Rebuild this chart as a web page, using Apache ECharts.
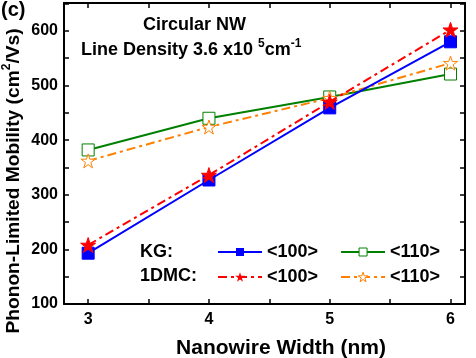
<!DOCTYPE html>
<html><head><meta charset="utf-8">
<script src="https://cdn.jsdelivr.net/npm/echarts@6/dist/echarts.min.js"></script>
<style>html,body{margin:0;padding:0;background:#fff}#c{width:476px;height:358px}</style>
</head><body><div id="c"></div>
<script>
const widths = [3, 4, 5, 6];
const kg100 = [193, 327, 459, 580];
const mc100 = [208, 336, 470, 602];
const kg110 = [382, 440, 479, 521];
const mc110 = [362, 424, 477, 541];
const xLabels = [3, 4, 5, 6];
const xTickVals = [3, 3.5, 4, 4.5, 5, 5.5, 6];
const yLabels = [100, 200, 300, 400, 500, 600];
const yTickVals = [100, 150, 200, 250, 300, 350, 400, 450, 500, 550, 600, 650];

const F = 'Liberation Sans, Arial, sans-serif';
const STAR = 'path://M12,1 L14.6,8.6 L22.5,8.6 L16.1,13.3 L18.5,21 L12,16.3 L5.5,21 L7.9,13.3 L1.5,8.6 L9.4,8.6 Z';
const chart = echarts.init(document.getElementById('c'));
function pts(v){ return widths.map((w,i)=>[w, v[i]]); }
const line = {show:true,onZero:false,lineStyle:{color:'#000',width:2}};
const tick = vals => ({show:true,inside:true,length:5,customValues:vals,lineStyle:{color:'#000',width:1.5}});
const lblFont = {fontFamily:F,fontWeight:'bold',fontSize:16,color:'#000'};
const legText = {fontFamily:F,fontWeight:'bold',fontSize:18,color:'#000'};
chart.setOption({
  animation:false,
  grid:{left:64,right:11,top:3,bottom:54,containLabel:false,outerBoundsMode:'none'},
  xAxis:[
    {type:'value',min:2.8,max:6.12,position:'bottom',
      axisLine:line,axisTick:tick(xTickVals),splitLine:{show:false},
      axisLabel:Object.assign({margin:8,customValues:xLabels},lblFont)},
    {type:'value',min:2.8,max:6.12,position:'top',
      axisLine:line,axisTick:tick(xTickVals),splitLine:{show:false},axisLabel:{show:false}}
  ],
  yAxis:[
    {type:'value',min:100,max:651,position:'left',
      axisLine:line,axisTick:tick(yTickVals),splitLine:{show:false},
      axisLabel:Object.assign({margin:6,padding:[0,0,8,0],customValues:yLabels},lblFont)},
    {type:'value',min:100,max:651,position:'right',
      axisLine:line,axisTick:tick(yTickVals),splitLine:{show:false},axisLabel:{show:false}}
  ],
  legend:[
    {orient:'horizontal',left:217,top:243,padding:0,itemWidth:44,itemHeight:10,itemGap:22,
      data:[{name:'kg100'},{name:'kg110',itemStyle:{color:'#fff',borderColor:'#008000',borderWidth:1}}],
      formatter:n=>n.endsWith('100')?'<100>':'<110>',textStyle:legText},
    {orient:'horizontal',left:217,top:268,padding:0,itemWidth:44,itemHeight:12,itemGap:22,
      data:[{name:'mc100'},{name:'mc110',itemStyle:{color:'#fff',borderColor:'#ff8000',borderWidth:1}}],
      formatter:n=>n.endsWith('100')?'<100>':'<110>',textStyle:legText}
  ],
  graphic:[
    {type:'text',left:1,top:0,style:{text:'(c)',font:'bold 20px '+F,fill:'#000'}},
    {type:'text',left:143,top:16,style:{text:'Circular NW',font:'bold 18px '+F,fill:'#000'}},
    {type:'text',left:81,top:38,style:{
      text:'{a|Line Density 3.6 x10 }{s|5}{a|cm}{s|-1}',
      rich:{a:{fontFamily:F,fontWeight:'bold',fontSize:18,color:'#000',verticalAlign:'bottom'},
            s:{fontFamily:F,fontWeight:'bold',fontSize:12,color:'#000',verticalAlign:'top',padding:[0,0,9,0]}}}},
    {type:'text',left:140,top:243,style:{text:'KG:',font:'bold 18px '+F,fill:'#000'}},
    {type:'text',left:140,top:267,style:{text:'1DMC:',font:'bold 18px '+F,fill:'#000'}},
    {type:'text',x:281,y:348,style:{text:'Nanowire Width (nm)',font:'bold 21px '+F,fill:'#000',align:'center',verticalAlign:'middle'}},
    {type:'text',x:12,y:181,rotation:Math.PI/2,style:{
      text:'{a|Phonon-Limited Mobility (cm}{s|2}{a|/Vs)}',align:'center',verticalAlign:'middle',
      rich:{a:{fontFamily:F,fontWeight:'bold',fontSize:19.2,color:'#000',verticalAlign:'bottom'},
            s:{fontFamily:F,fontWeight:'bold',fontSize:12,color:'#000',verticalAlign:'top',padding:[0,0,10,0]}}}}
  ],
  series:[
    {name:'kg110',type:'line',data:pts(kg110),symbol:'rect',symbolSize:12,
      itemStyle:{color:'#fff',borderColor:'#008000',borderWidth:1},lineStyle:{color:'#008000',width:2},z:3},
    {name:'mc110',type:'line',data:pts(mc110),symbol:STAR,symbolSize:14,
      itemStyle:{color:'#fff',borderColor:'#ff8000',borderWidth:1},lineStyle:{color:'#ff8000',width:2,type:[9,4,3,4]},z:3},
    {name:'kg100',type:'line',data:pts(kg100),symbol:'rect',symbolSize:12,
      itemStyle:{color:'#0000ff',borderColor:'#0000ff'},lineStyle:{color:'#0000ff',width:2},z:4},
    {name:'mc100',type:'line',data:pts(mc100),symbol:STAR,symbolSize:15,
      itemStyle:{color:'#ff0000',borderColor:'#ff0000'},lineStyle:{color:'#ff0000',width:2,type:[9,4,3,4]},z:5}
  ]
});
</script></body></html>
